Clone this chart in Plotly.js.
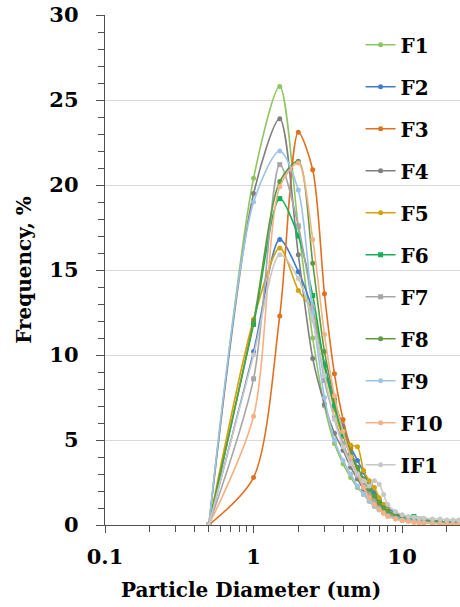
<!DOCTYPE html>
<html>
<head>
<meta charset="utf-8">
<script src="https://cdn.plot.ly/plotly-3.0.1.min.js"></script>
<style>html,body{margin:0;padding:0;background:#fff;}#chart{width:460px;height:607px;}</style>
</head>
<body>
<div id="chart"></div>
<script>
const diameters = [0.5,1,1.5,2,2.5,3,3.5,4,4.5,5,5.5,6,6.5,7,7.5,8,9,10,11,12,13,14,16,18,20,22,24];

const seriesNames = ["F1","F2","F3","F4","F5","F6","F7","F8","F9","F10","IF1"];

const F1  = [0,20.4,25.8,17.5,11.0,7.0,4.8,3.6,2.8,2.2,1.8,1.4,1.1,0.9,0.7,0.6,0.45,0.35,0.3,0.25,0.2,0.18,0.15,0.12,0.1,0.1,0.08];
const F2  = [0,10.2,16.8,14.9,12.6,9.5,7.2,5.8,4.6,3.8,3.1,2.4,1.9,1.5,1.2,1.0,0.7,0.55,0.45,0.4,0.35,0.3,0.25,0.2,0.18,0.15,0.12];
const F3  = [0,2.8,12.3,23.1,20.9,13.6,8.9,6.2,4.5,3.2,2.4,1.8,1.4,1.1,0.9,0.7,0.5,0.35,0.3,0.25,0.2,0.15,0.12,0.1,0.08,0.06,0.05];
const F4  = [0,19.5,23.9,15.9,9.8,7.1,5.4,4.4,3.4,2.7,2.1,1.7,1.3,1.0,0.8,0.65,0.5,0.4,0.3,0.25,0.2,0.18,0.15,0.12,0.1,0.08,0.07];
const F5  = [0,12.1,16.3,13.8,12.6,9.3,6.8,5.2,4.7,4.6,3.2,2.6,2.2,1.6,1.2,0.9,0.6,0.5,0.4,0.35,0.3,0.25,0.2,0.18,0.15,0.12,0.1];
const F6  = [0,11.8,19.2,17.0,13.5,9.4,7.0,5.3,4.1,3.3,2.7,2.1,1.7,1.3,1.0,0.8,0.6,0.45,0.4,0.5,0.35,0.3,0.25,0.2,0.15,0.12,0.1];
const F7  = [0,8.6,21.2,17.6,12.8,8.5,6.3,4.8,3.7,2.9,2.3,1.8,1.4,1.1,0.9,0.7,0.5,0.4,0.32,0.28,0.22,0.2,0.16,0.14,0.12,0.1,0.08];
const F8  = [0,12.0,20.2,21.4,15.4,10.2,7.4,5.6,4.3,3.4,2.7,2.1,1.7,1.3,1.0,0.8,0.6,0.5,0.45,0.4,0.35,0.3,0.25,0.2,0.18,0.15,0.12];
const F9  = [0,19.0,22.0,19.7,12.5,7.5,5.0,3.8,3.0,2.3,1.8,1.4,1.1,0.9,0.7,0.55,0.4,0.3,0.25,0.2,0.18,0.15,0.12,0.1,0.08,0.07,0.06];
const F10 = [0,6.4,19.9,21.3,16.8,11.2,7.6,5.5,4.0,3.0,2.2,1.6,1.2,0.9,0.7,0.5,0.35,0.25,0.2,0.15,0.12,0.1,0.08,0.06,0.05,0.04,0.03];
const IF1 = [0,10.0,15.9,14.5,12.0,8.8,6.2,4.6,3.6,3.0,2.6,2.3,2.6,2.4,1.8,1.2,0.8,0.6,0.5,0.45,0.4,0.4,0.35,0.35,0.3,0.3,0.3];

const seriesValues = [F1,F2,F3,F4,F5,F6,F7,F8,F9,F10,IF1];
const colors = ["#8dc65f","#3f7ccc","#e0701f","#7f7f7f","#d4a20a","#13b157","#a6a6a6","#5f9a40","#9dc3e6","#f4b183","#c8c8c8"];
const symbols = ["circle","circle","circle","circle","circle","square","square","circle","circle","circle","circle"];

const traces = seriesNames.map((name, i) => ({
  type: "scatter",
  mode: "lines+markers",
  name: name,
  legendgroup: name,
  x: diameters,
  y: seriesValues[i],
  line: {color: colors[i], width: 1.6, shape: "spline", smoothing: 0.8},
  marker: {color: colors[i], size: 5, symbol: symbols[i]},
  cliponaxis: true
}));

const fontFam = "DejaVu Serif";

const layout = {
  width: 460,
  height: 607,
  margin: {l: 105, r: 0, t: 15, b: 82},
  paper_bgcolor: "#ffffff",
  plot_bgcolor: "#ffffff",
  font: {family: fontFam},
  showlegend: true,
  legend: {
    x: 0.72, y: 0.98, xanchor: "left", yanchor: "top",
    font: {family: fontFam, size: 20, color: "#000", weight: "bold"},
    bgcolor: "rgba(255,255,255,0)",
    tracegroupgap: 13,
    itemwidth: 30
  },
  xaxis: {
    type: "log",
    range: [-1, Math.log10(24.5)],
    tickvals: [0.1, 1, 10],
    ticktext: ["0.1", "1", "10"],
    ticks: "outside",
    ticklen: 7,
    tickcolor: "#505050",
    ticklabelstandoff: 6,
    minor: {ticks: "outside", ticklen: 6, tickcolor: "#505050", tickvals: [0.2,0.3,0.4,0.5,0.6,0.7,0.8,0.9,2,3,4,5,6,7,8,9,20,30]},
    showline: true,
    linecolor: "#505050",
    linewidth: 1.2,
    showgrid: false,
    zeroline: false,
    tickfont: {family: fontFam, size: 21, color: "#000", weight: "bold"}
  },
  yaxis: {
    range: [0, 30],
    dtick: 5,
    ticks: "outside",
    ticklen: 8,
    tickcolor: "#505050",
    ticklabelstandoff: 13,
    minor: {ticks: "outside", ticklen: 6, dtick: 1, tickcolor: "#505050", showgrid: false},
    showline: true,
    linecolor: "#505050",
    linewidth: 1.2,
    showgrid: true,
    gridcolor: "#d9d9d9",
    gridwidth: 1,
    zeroline: false,
    tickfont: {family: fontFam, size: 21, color: "#000", weight: "bold"},
    title: {text: "<b>Frequency, %</b>", font: {family: fontFam, size: 20, color: "#000"}, standoff: 12}
  },
  annotations: [{
    text: "<b>Particle Diameter (um)</b>",
    xref: "paper", yref: "paper",
    x: 0.411, y: -0.1,
    xanchor: "center", yanchor: "top",
    showarrow: false,
    font: {family: fontFam, size: 20, color: "#000"}
  }]
};

Plotly.newPlot("chart", traces, layout, {displayModeBar: false, staticPlot: true});
</script>
</body>
</html>
